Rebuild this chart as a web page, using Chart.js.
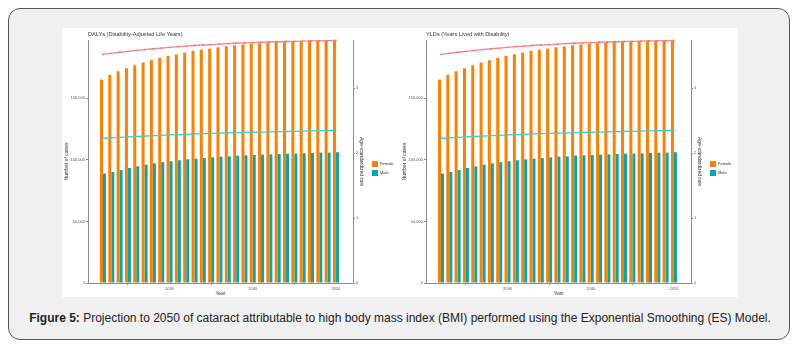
<!DOCTYPE html>
<html lang="en">
<head>
    <meta charset="UTF-8">
    <title>Figure 5 | Cataract projection</title>
    <script src="https://cdn.jsdelivr.net/npm/chart.js"></script>
    <style>
        body { margin: 0; background: #ffffff; font-family: "Liberation Sans", Arial, sans-serif; }
        .frame { position: absolute; left: 8px; top: 8px; width: 780px; height: 330px; border: 1px solid #555; border-radius: 12px; background: #f0f0f0; }
        .figure { position: absolute; left: 62px; top: 28px; width: 676px; height: 269px; background: #ffffff; }
        .panel { position: absolute; top: 28px; width: 338px; height: 269px; }
        .caption { position: absolute; left: 0; width: 800px; top: 311px; text-align: center; font-size: 12px; color: #222; white-space: nowrap; }
    </style>
</head>
<body>
    <div class="frame"></div>
    <div class="figure"></div>
    <div class="panel" style="left:62px"><canvas id="dalyChart" width="338" height="269"></canvas></div>
    <div class="panel" style="left:400px"><canvas id="yldChart" width="338" height="269"></canvas></div>
    <div class="caption" id="caption"><b>Figure 5:</b> Projection to 2050 of cataract attributable to high body mass index (BMI) performed using the Exponential Smoothing (ES) Model.</div>

    <script>
        // Data (both panels show the same numbers)
        const years = [2022, 2023, 2024, 2025, 2026, 2027, 2028, 2029, 2030, 2031,
                       2032, 2033, 2034, 2035, 2036, 2037, 2038, 2039, 2040, 2041,
                       2042, 2043, 2044, 2045, 2046, 2047, 2048, 2049, 2050];
        const femaleCases = [165300, 169100, 172000, 174500, 176900, 179100, 181000, 182900, 184500, 185800,
                             187200, 188600, 189600, 190400, 191500, 192300, 193100, 193700, 194200, 194700,
                             195300, 195900, 196100, 196400, 196700, 196900, 197100, 197200, 197300];
        const maleCases = [88900, 90200, 91800, 93400, 94800, 96200, 97200, 98100, 98900, 99700,
                           100500, 101000, 101500, 102100, 102700, 102900, 103500, 103700, 104000, 104300,
                           104500, 104800, 105100, 105100, 105300, 105600, 105900, 105900, 106200];
        const femaleRate = [3.523, 3.540, 3.556, 3.571, 3.585, 3.598, 3.610, 3.621, 3.632, 3.642,
                            3.651, 3.660, 3.668, 3.675, 3.682, 3.689, 3.695, 3.700, 3.705, 3.710,
                            3.714, 3.718, 3.722, 3.725, 3.728, 3.731, 3.733, 3.735, 3.737];
        const maleRate = [2.231, 2.238, 2.245, 2.252, 2.258, 2.264, 2.270, 2.276, 2.282, 2.287,
                          2.292, 2.297, 2.301, 2.305, 2.309, 2.313, 2.317, 2.320, 2.323, 2.326,
                          2.329, 2.332, 2.335, 2.338, 2.341, 2.344, 2.347, 2.350, 2.354];
        const xTicks = [2030, 2040, 2050];
        const casesTicks = [0, 50000, 100000, 150000];
        const rateTicks = [0, 1, 2, 3];

        const FONT = '"Liberation Sans", Arial, sans-serif';
        const AXIS = '#8c8c8c';
        const TEXT = '#555555';

        // panel title drawn at the left edge of the plot, like ggplot does
        const panelTitle = {
            id: 'panelTitle',
            afterDraw(chart, args, opts) {
                const ctx = chart.ctx;
                ctx.save();
                ctx.font = '5.6px ' + FONT;
                ctx.fillStyle = '#333';
                ctx.textBaseline = 'middle';
                ctx.fillText(opts.text, chart.chartArea.left, 6);
                ctx.restore();
            }
        };

        function points(vals) {
            return years.map((yr, i) => ({ x: yr, y: vals[i] }));
        }

        function makeChart(id, title) {
            new Chart(document.getElementById(id), {
                type: 'bar',
                data: {
                    datasets: [
                        {
                            type: 'line', label: 'Female rate', data: points(femaleRate), yAxisID: 'y2',
                            borderColor: '#f3868a', backgroundColor: '#ee7277', borderWidth: 1.3,
                            pointRadius: 0.9, pointBorderWidth: 0, clip: false
                        },
                        {
                            type: 'line', label: 'Male rate', data: points(maleRate), yAxisID: 'y2',
                            borderColor: '#3ccfd4', backgroundColor: '#3ccfd4', borderWidth: 1.3,
                            pointRadius: 0.8, pointBorderWidth: 0, clip: false
                        },
                        {
                            label: 'Female', data: points(femaleCases), yAxisID: 'y',
                            backgroundColor: '#ff8000', categoryPercentage: 0.72, barPercentage: 1.0
                        },
                        {
                            label: 'Male', data: points(maleCases), yAxisID: 'y',
                            backgroundColor: '#00a8b0', categoryPercentage: 0.72, barPercentage: 1.0
                        }
                    ]
                },
                options: {
                    responsive: false,
                    animation: false,
                    layout: { padding: { top: 12, right: 0, left: 0, bottom: 0 } },
                    plugins: {
                        panelTitle: { text: title },
                        tooltip: { enabled: false },
                        legend: {
                            position: 'right',
                            maxWidth: 31,
                            labels: {
                                boxWidth: 6, boxHeight: 6, padding: 3,
                                font: { size: 4, family: FONT }, color: '#333',
                                filter: item => item.datasetIndex >= 2
                            }
                        }
                    },
                    scales: {
                        x: {
                            type: 'linear', min: 2020.2, max: 2052.05, offset: false,
                            afterBuildTicks: s => { s.ticks = xTicks.map(v => ({ value: v })); },
                            afterFit: s => { s.height = 14; },
                            ticks: { font: { size: 4, family: FONT }, color: TEXT, padding: 1, callback: v => String(v) },
                            grid: { drawOnChartArea: false, tickLength: 2, color: AXIS },
                            border: { color: AXIS },
                            title: { display: true, text: 'Year', font: { size: 5, family: FONT }, color: '#333', padding: 0 }
                        },
                        y: {
                            position: 'left', min: 0, max: 197400,
                            afterBuildTicks: s => { s.ticks = casesTicks.map(v => ({ value: v })); },
                            afterFit: s => { s.width = 26; },
                            ticks: { font: { size: 4, family: FONT }, color: TEXT, padding: 1 },
                            grid: { drawOnChartArea: false, tickLength: 2, color: AXIS },
                            border: { color: AXIS },
                            title: { display: true, text: 'Number of cases', font: { size: 5, family: FONT }, color: '#333', padding: { top: 2, bottom: 0 } }
                        },
                        y2: {
                            position: 'right', min: 0, max: 3.745,
                            afterBuildTicks: s => { s.ticks = rateTicks.map(v => ({ value: v })); },
                            afterFit: s => { s.width = 16; },
                            ticks: { font: { size: 4, family: FONT }, color: TEXT, padding: 1 },
                            grid: { drawOnChartArea: false, tickLength: 2, color: AXIS },
                            border: { color: AXIS },
                            title: { display: true, text: 'Age-standardized rate', font: { size: 5, family: FONT }, color: '#333', padding: { top: 5, bottom: 0 } }
                        }
                    }
                },
                plugins: [panelTitle]
            });
        }

        makeChart('dalyChart', 'DALYs (Disability-Adjusted Life Years)');
        makeChart('yldChart', 'YLDs (Years Lived with Disability)');
    </script>
</body>
</html>
